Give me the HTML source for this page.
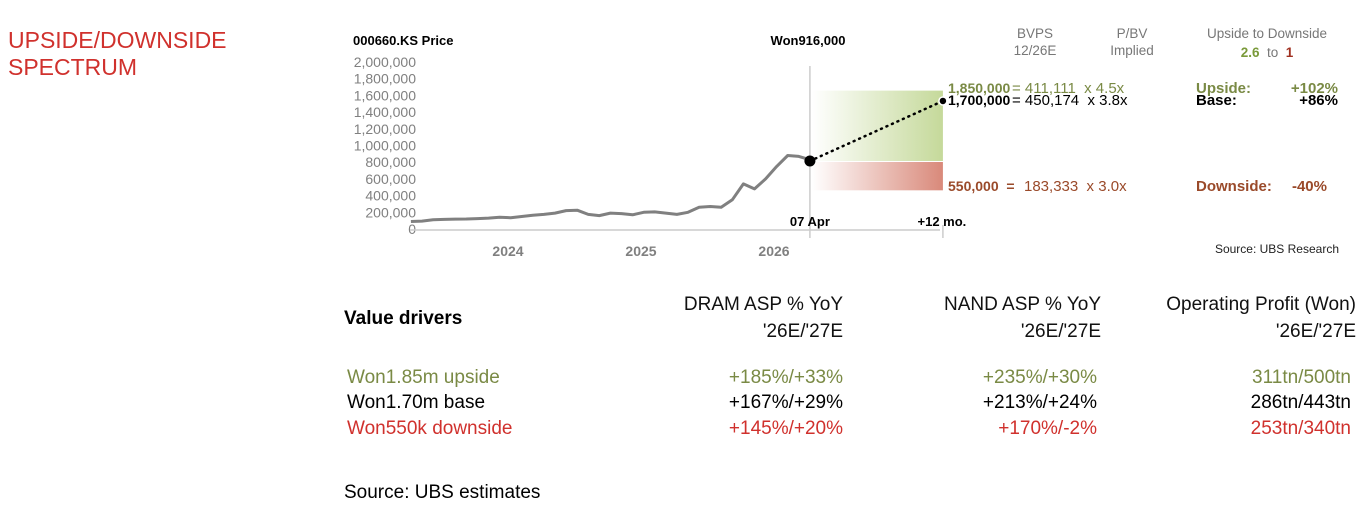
<!DOCTYPE html>
<html><head><meta charset="utf-8"><style>
body{margin:0;background:#fff;width:1370px;height:506px;overflow:hidden}
svg{display:block;font-family:"Liberation Sans",sans-serif}
svg text{white-space:pre}
</style></head><body>
<svg id="c" width="1370" height="506" viewBox="0 0 1370 506">
<defs>
<linearGradient id="gG" x1="0" x2="1"><stop offset="0" stop-color="#c5d99a" stop-opacity="0"/><stop offset="1" stop-color="#c5d99a"/></linearGradient>
<linearGradient id="gR" x1="0" x2="1"><stop offset="0" stop-color="#d9897a" stop-opacity="0"/><stop offset="1" stop-color="#d9897a"/></linearGradient>
</defs>
<text x="8" y="48" font-size="23" fill="#d0312d">UPSIDE/DOWNSIDE</text>
<text x="8" y="75" font-size="23" fill="#d0312d">SPECTRUM</text>
<text x="353" y="45" font-size="13" font-weight="bold">000660.KS Price</text>
<text x="808" y="45" font-size="13" font-weight="bold" text-anchor="middle">Won916,000</text>
<g id="yaxis"></g>
<g id="plot"></g>
<g font-size="13.5" fill="#777" text-anchor="middle">
<text x="1035" y="38">BVPS</text>
<text x="1035" y="55">12/26E</text>
<text x="1132" y="38">P/BV</text>
<text x="1132" y="55">Implied</text>
<text x="1267" y="38">Upside to Downside</text>
</g>
<text x="1267" y="57" font-size="13.5" text-anchor="middle"><tspan fill="#7a9a3a" font-weight="bold">2.6</tspan><tspan fill="#777">  to  </tspan><tspan fill="#a03020" font-weight="bold">1</tspan></text>
<g font-size="15">
<text x="948" y="93" fill="#7a8a45" font-weight="bold" font-size="14">1,850,000</text>
<text x="1012" y="93" fill="#7a8a45">= 411,111  x 4.5x</text>
<text x="948" y="105" fill="#000" font-weight="bold" font-size="14">1,700,000</text>
<text x="1012" y="105" fill="#000">= 450,174  x 3.8x</text>
<text x="948" y="191" fill="#9a4a2a" font-weight="bold" font-size="14">550,000  =</text>
<text x="1024" y="191" fill="#9a4a2a">183,333  x 3.0x</text>
<text x="1196" y="93" fill="#7a8a45" font-weight="bold">Upside:</text>
<text x="1338" y="93" fill="#7a8a45" font-weight="bold" text-anchor="end">+102%</text>
<text x="1196" y="105" font-weight="bold">Base:</text>
<text x="1338" y="105" font-weight="bold" text-anchor="end">+86%</text>
<text x="1196" y="191" fill="#9a4a2a" font-weight="bold">Downside:</text>
<text x="1327" y="191" fill="#9a4a2a" font-weight="bold" text-anchor="end">-40%</text>
</g>
<text x="1339" y="253" font-size="12" fill="#222" text-anchor="end">Source: UBS Research</text>
<g font-size="19">
<text x="344" y="324" font-weight="bold">Value drivers</text>
<g text-anchor="end" fill="#111">
<text x="843" y="310">DRAM ASP % YoY</text>
<text x="843" y="337">'26E/'27E</text>
<text x="1101" y="310">NAND ASP % YoY</text>
<text x="1101" y="337">'26E/'27E</text>
<text x="1356" y="310">Operating Profit (Won)</text>
<text x="1356" y="337">'26E/'27E</text>
</g>
<g fill="#7a8a45">
<text x="347" y="383">Won1.85m upside</text>
<text x="843" y="383" text-anchor="end">+185%/+33%</text>
<text x="1097" y="383" text-anchor="end">+235%/+30%</text>
<text x="1351" y="383" text-anchor="end">311tn/500tn</text>
</g>
<g fill="#000">
<text x="347" y="408">Won1.70m base</text>
<text x="843" y="408" text-anchor="end">+167%/+29%</text>
<text x="1097" y="408" text-anchor="end">+213%/+24%</text>
<text x="1351" y="408" text-anchor="end">286tn/443tn</text>
</g>
<g fill="#d0312d">
<text x="347" y="434">Won550k downside</text>
<text x="843" y="434" text-anchor="end">+145%/+20%</text>
<text x="1097" y="434" text-anchor="end">+170%/-2%</text>
<text x="1351" y="434" text-anchor="end">253tn/340tn</text>
</g>
<text x="344" y="498">Source: UBS estimates</text>
</g>
</svg>
<script>
const prices=[90000,95000,110000,115000,118000,120000,125000,130000,140000,135000,150000,165000,175000,190000,220000,225000,175000,160000,190000,185000,170000,200000,205000,190000,175000,200000,260000,270000,260000,350000,540000,480000,600000,750000,880000,870000,830000];
const startYear=2023.27, stepYear=1/12;
const yTicks=[0,200000,400000,600000,800000,1000000,1200000,1400000,1600000,1800000,2000000];
const yearLabels=[2024,2025,2026];
const scenarios=[1850000,1700000,550000];
const current=830000;
const NS="http://www.w3.org/2000/svg";
const x=t=>508+(t-2024)*133;
const y=v=>229-v*8.35e-5;
const ys=v=>161-(v-current)*6.9e-5;
function mk(tag,at,parent){const e=document.createElementNS(NS,tag);for(const k in at)e.setAttribute(k,at[k]);parent.appendChild(e);return e;}
const ya=document.getElementById('yaxis'),pl=document.getElementById('plot');
yTicks.forEach(v=>{const t=mk('text',{x:416,y:y(v)+5,'font-size':14,fill:'#808080','text-anchor':'end'},ya);t.textContent=v.toLocaleString('en-US');

});
const ax=mk('line',{x1:410,x2:940,y1:230,y2:230,stroke:'#ccc','stroke-width':1.5},pl);


const tNow=startYear+(prices.length-1)*stepYear, xNow=x(tNow), xEnd=x(tNow+1);
const vl=mk('line',{x1:xNow,x2:xNow,y1:66,y2:238,stroke:'#ccc','stroke-width':1.5},pl);


const el=mk('line',{x1:xEnd,x2:xEnd,y1:225,y2:238,stroke:'#ccc','stroke-width':1.5},pl);


yearLabels.forEach(yr=>{const t=mk('text',{x:x(yr),y:256,'font-size':14,'font-weight':'bold',fill:'#808080','text-anchor':'middle'},pl);t.textContent=yr;

});
const g=mk('rect',{x:xNow+2,y:ys(scenarios[0]),width:xEnd-xNow-2,height:ys(current)-ys(scenarios[0]),fill:'url(#gG)'},pl);


const r=mk('rect',{x:xNow+2,y:ys(current)+1,width:xEnd-xNow-2,height:ys(scenarios[2])-ys(current)+9,fill:'url(#gR)'},pl);


const pts=prices.map((v,i)=>x(startYear+i*stepYear).toFixed(1)+','+y(v).toFixed(1)).join(' ');
const ln=mk('polyline',{points:pts,fill:'none',stroke:'#808080','stroke-width':3,'stroke-linejoin':'round'},pl);


const dl=mk('line',{x1:xNow,y1:ys(current),x2:xEnd,y2:ys(scenarios[1]),stroke:'#000','stroke-width':2.5,'stroke-dasharray':'1 5','stroke-linecap':'round'},pl);


const c1=mk('circle',{cx:xNow,cy:ys(current),r:5.5,fill:'#000'},pl);


const c2=mk('circle',{cx:xEnd,cy:ys(scenarios[1]),r:4,fill:'#000',stroke:'#fff','stroke-width':1.5},pl);


const l1=mk('text',{x:xNow,y:226,'font-size':13,'font-weight':'bold','text-anchor':'middle'},pl);l1.textContent='07 Apr';


const l2=mk('text',{x:xEnd-1,y:226,'font-size':13,'font-weight':'bold','text-anchor':'middle'},pl);l2.textContent='+12 mo.';


</script>
</body></html>
